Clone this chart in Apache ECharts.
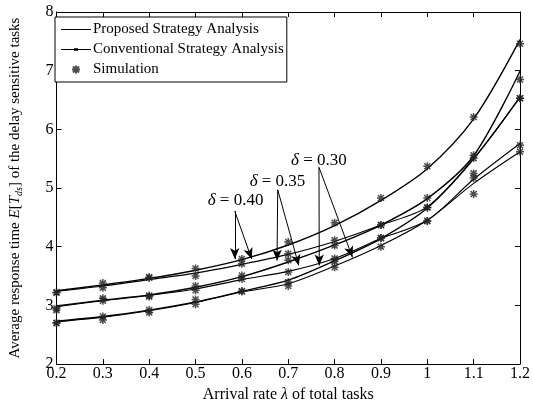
<!DOCTYPE html>
<html>
<head>
<meta charset="utf-8">
<script src="https://cdn.jsdelivr.net/npm/echarts@6/dist/echarts.min.js"></script>
<style>html,body{margin:0;padding:0;background:#fff}#c{width:533px;height:408px}</style>
</head>
<body>
<div id="c"></div>
<script>
// ---- data ----
var lambdas = [0.2, 0.3, 0.4, 0.5, 0.6, 0.7, 0.8, 0.9, 1.0, 1.1, 1.2];
var xTicks = [0.2, 0.3, 0.4, 0.5, 0.6, 0.7, 0.8, 0.9, 1, 1.1, 1.2];
var yTicks = [2, 3, 4, 5, 6, 7, 8];

// analysis curves
var conv40 = [3.25, 3.35, 3.46, 3.60, 3.78, 4.03, 4.36, 4.79, 5.33, 6.18, 7.53];
var prop40 = [3.24, 3.33, 3.44, 3.55, 3.70, 3.87, 4.09, 4.37, 4.68, 5.50, 6.55];
var conv35 = [2.99, 3.09, 3.18, 3.31, 3.49, 3.74, 4.03, 4.37, 4.82, 5.55, 6.99];
var prop35 = [2.98, 3.08, 3.17, 3.28, 3.44, 3.58, 3.80, 4.14, 4.45, 5.15, 5.76];
var conv30 = [2.73, 2.81, 2.92, 3.06, 3.24, 3.43, 3.76, 4.14, 4.66, 5.50, 6.55];
var prop30 = [2.72, 2.80, 2.91, 3.05, 3.23, 3.37, 3.67, 4.02, 4.45, 5.08, 5.62];

// simulation points
var simConv40 = [3.22, 3.38, 3.48, 3.63, 3.79, 4.08, 4.41, 4.83, 5.37, 6.21, 7.46];
var simProp40 = [3.22, 3.30, 3.47, 3.50, 3.71, 3.88, 4.11, 4.37, 4.67, 5.51, 6.53];
var simConv35 = [2.95, 3.12, 3.17, 3.33, 3.51, 3.77, 4.02, 4.37, 4.83, 5.56, 6.85];
var simProp35 = [2.92, 3.08, 3.15, 3.26, 3.45, 3.57, 3.80, 4.15, 4.44, 5.25, 5.73];
var simConv30 = [2.70, 2.81, 2.92, 3.10, 3.24, 3.40, 3.75, 4.15, 4.67, 5.17, 6.53];
var simProp30 = [2.70, 2.75, 2.88, 3.02, 3.24, 3.33, 3.65, 4.00, 4.44, 4.90, 5.62];

// annotations (delta labels and arrow endpoints, data coordinates)
var deltaLabels = ['0.40', '0.35', '0.30'];
var deltaTextPos = [[0.5863, 4.78], [0.6768, 5.118], [0.7663, 5.472]];
var arrowStarts = [[0.5846, 4.607], [0.6773, 4.971], [0.7663, 5.354]];
var arrowTips = [
  [[0.5846, 3.791], [0.6211, 3.791]],
  [[0.6758, 3.764], [0.7227, 3.680]],
  [[0.7669, 3.680], [0.8385, 3.820]]
];

var NAME_P = 'Proposed Strategy Analysis';
var NAME_C = 'Conventional Strategy Analysis';
var NAME_S = 'Simulation';
var FONT = 'Liberation Serif';
var STAR = 'path://M0,-4L0,4M-4,0L4,0M-3,-3L3,3M-3,3L3,-3';

function pairs(ys) { return lambdas.map(function (x, i) { return [x, ys[i]]; }); }

function lineSeries(name, ys, w) {
  return {
    name: name, type: 'line', data: pairs(ys), smooth: 0.3,
    symbol: 'none', showSymbol: false,
    lineStyle: { color: '#000', width: w }, itemStyle: { color: '#000' },
    z: 3, animation: false, silent: true
  };
}
function simSeries(ys) {
  return {
    name: NAME_S, type: 'scatter', data: pairs(ys),
    symbol: STAR, symbolSize: 8,
    itemStyle: { color: 'rgba(0,0,0,0)', borderColor: '#222', borderWidth: 1.5 },
    z: 4, animation: false, silent: true
  };
}

var markLineData = [];
arrowStarts.forEach(function (s, i) {
  arrowTips[i].forEach(function (t) {
    markLineData.push([{ coord: s }, { coord: t }]);
  });
});
var markPointData = deltaTextPos.map(function (p, i) {
  return { coord: p, value: deltaLabels[i] };
});

var series = [
  lineSeries(NAME_P, prop40, 1.1),
  lineSeries(NAME_C, conv40, 1.4),
  lineSeries(NAME_P, prop35, 1.1),
  lineSeries(NAME_C, conv35, 1.4),
  lineSeries(NAME_P, prop30, 1.1),
  lineSeries(NAME_C, conv30, 1.4),
  simSeries(simConv40), simSeries(simProp40),
  simSeries(simConv35), simSeries(simProp35),
  simSeries(simConv30), simSeries(simProp30),
  {
    name: 'annot', type: 'line', data: [], animation: false, silent: true,
    markLine: {
      silent: true, animation: false, symbol: ['none', 'arrow'], symbolSize: [7, 11],
      lineStyle: { color: '#000', width: 1, type: 'solid' },
      label: { show: false }, data: markLineData
    },
    markPoint: {
      silent: true, animation: false, symbol: 'circle', symbolSize: 0,
      label: {
        show: true, position: 'inside', color: '#000', fontFamily: FONT, fontSize: 17,
        formatter: function (p) { return '{d|δ} = ' + p.value; },
        rich: { d: { fontStyle: 'italic', fontFamily: FONT, fontSize: 17, color: '#000' } }
      },
      data: markPointData
    }
  }
];

var axisLineStyle = { show: true, lineStyle: { color: '#000', width: 1 } };
var chart = echarts.init(document.getElementById('c'), null, { renderer: 'canvas' });
chart.setOption({
  backgroundColor: '#fff',
  animation: false,
  textStyle: { fontFamily: FONT },
  grid: { left: 50, right: 8, top: 12, bottom: 40, containLabel: false },
  legend: {
    data: [
      { name: NAME_P, icon: 'path://M0,0L30,0L30,1L0,1Z' },
      { name: NAME_C, icon: 'path://M0,0L13,0L13,-0.6L17,-0.6L17,0L30,0L30,1.2L17,1.2L17,1.8L13,1.8L13,1.2L0,1.2Z' },
      { name: NAME_S }
    ],
    orient: 'vertical', left: 55, top: 17,
    itemWidth: 30, itemHeight: 8, itemGap: 5,
    padding: [5, 3, 5, 6],
    borderColor: '#000', borderWidth: 1, backgroundColor: '#fff',
    textStyle: { fontFamily: FONT, fontSize: 15, color: '#000', padding: [0, 0, 0, -3] },
    selectedMode: false
  },
  xAxis: [{
    type: 'value', min: 0.2, max: 1.2, interval: 0.1,
    axisLine: axisLineStyle,
    axisTick: { show: true, inside: true, length: 5, lineStyle: { color: '#000' } },
    axisLabel: {
      color: '#000', fontFamily: FONT, fontSize: 16, margin: 2,
      formatter: function (v) {
        var r = Math.round(v * 10) / 10;
        return xTicks.indexOf(r) >= 0 ? String(r) : '';
      }
    },
    splitLine: { show: false },
    name: 'Arrival rate {i|λ} of total tasks',
    nameLocation: 'middle', nameGap: 22,
    nameTextStyle: {
      color: '#000', fontFamily: FONT, fontSize: 16,
      rich: { i: { fontStyle: 'italic', fontFamily: FONT, fontSize: 16, color: '#000' } }
    }
  }, {
    type: 'value', min: 0.2, max: 1.2, interval: 0.1, position: 'top',
    axisLine: axisLineStyle,
    axisTick: { show: true, inside: true, length: 5, lineStyle: { color: '#000' } },
    axisLabel: { show: false }, splitLine: { show: false }
  }],
  yAxis: [{
    type: 'value', min: 2, max: 8, interval: 1,
    axisLine: axisLineStyle,
    axisTick: { show: true, inside: true, length: 5, lineStyle: { color: '#000' } },
    axisLabel: {
      color: '#000', fontFamily: FONT, fontSize: 16, margin: 3,
      formatter: function (v) { return yTicks.indexOf(v) >= 0 ? String(v) : ''; }
    },
    splitLine: { show: false },
    name: 'Average response time {i|E}[{i|T}{s|ds}] of the delay sensitive tasks',
    nameLocation: 'middle', nameGap: 32, nameRotate: 90,
    nameTextStyle: {
      color: '#000', fontFamily: FONT, fontSize: 15,
      rich: {
        i: { fontStyle: 'italic', fontFamily: FONT, fontSize: 15, color: '#000' },
        s: { fontStyle: 'italic', fontFamily: FONT, fontSize: 10, color: '#000', padding: [8, 0, 0, 0] }
      }
    }
  }, {
    type: 'value', min: 2, max: 8, interval: 1, position: 'right',
    axisLine: axisLineStyle,
    axisTick: { show: true, inside: true, length: 5, lineStyle: { color: '#000' } },
    axisLabel: { show: false }, splitLine: { show: false }
  }],
  series: series
});
</script>
</body>
</html>
